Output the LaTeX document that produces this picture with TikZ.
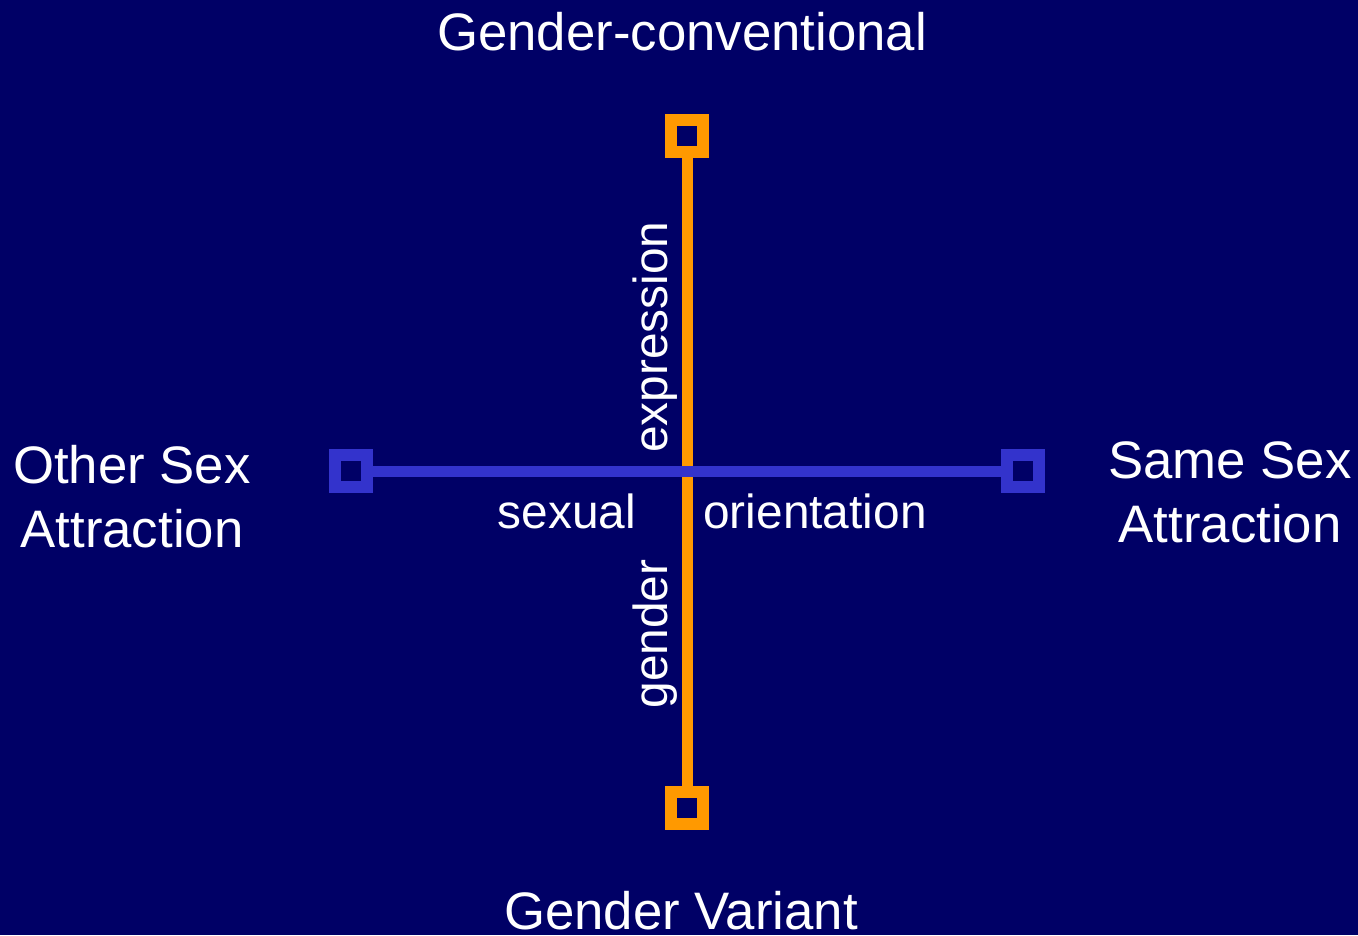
\documentclass[tikz,border=0pt]{standalone}
\usepackage{fontspec}
\setmainfont{Liberation Sans}
\definecolor{navy}{HTML}{000066}
\definecolor{axisorange}{HTML}{FF9900}
\definecolor{axisblue}{HTML}{3333CC}

\begin{document}
\begin{tikzpicture}[x=0.01cm,y=-0.01cm,
    endbox/.style={draw,line width=1.2mm,minimum size=3.2mm,inner sep=0},
    biglabel/.style={text=white,inner sep=0,anchor=base,align=center,font=\fontsize{15}{18}\selectfont},
    smalllabel/.style={text=white,inner sep=0,anchor=base,font=\fontsize{13.6}{16}\selectfont}]
  \fill[navy] (0,0) rectangle (1358,935);
  \useasboundingbox (0,0) rectangle (1358,935);

  \node[endbox,axisorange] (top) at (687,136) {};
  \node[endbox,axisorange] (bottom) at (687,808) {};
  \node[endbox,axisblue] (left) at (351,471) {};
  \node[endbox,axisblue] (right) at (1023,471) {};
  \draw[axisorange,line width=1.1mm] (top) -- (bottom);
  \draw[axisblue,line width=1.1mm] (left) -- (right);

  \node[biglabel] (conv) at (682,50) {Gender-conventional};
  \node[biglabel] (variant) at (681,929) {Gender Variant};
  \node[biglabel] (other) at (132,547) {Other Sex\\Attraction};
  \node[biglabel] (same) at (1230,542) {Same Sex\\Attraction};

  \node[smalllabel] (sexual) at (567,528) {sexual};
  \node[smalllabel] (orient) at (815,528) {orientation};
  \node[smalllabel,rotate=90] (expr) at (667,337) {expression};
  \node[smalllabel,rotate=90] (gender) at (667,634) {gender};
\end{tikzpicture}
\end{document}
